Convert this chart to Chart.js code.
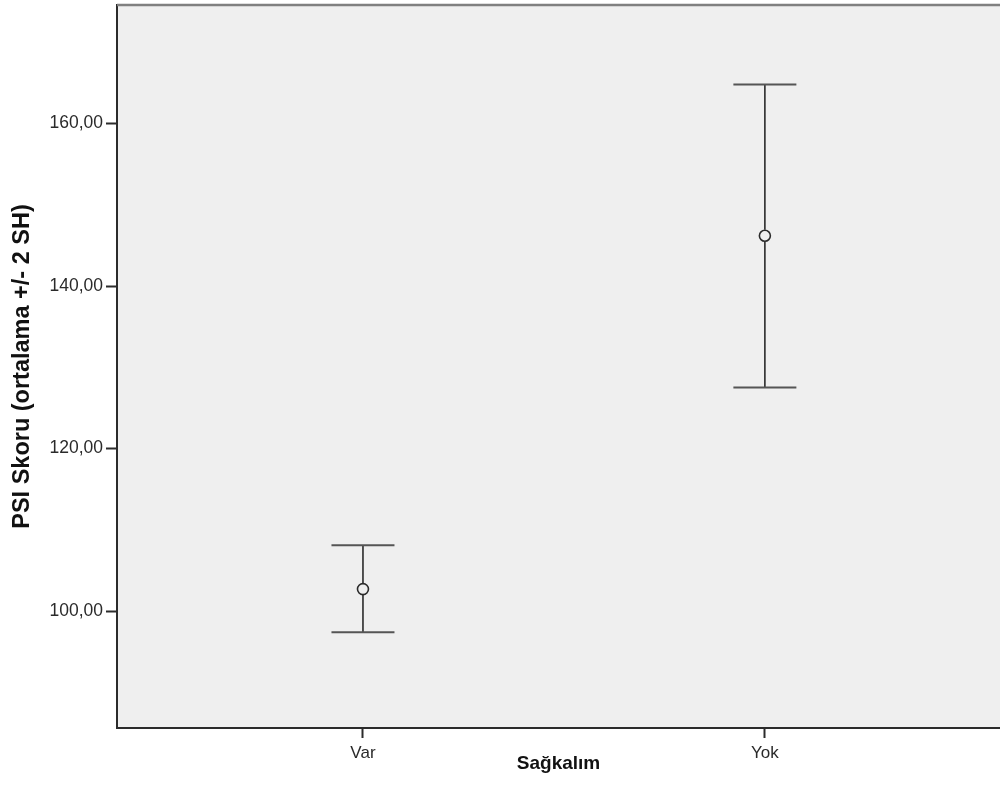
<!DOCTYPE html>
<html>
<head>
<meta charset="utf-8">
<script src="https://cdn.jsdelivr.net/npm/chart.js@4/dist/chart.umd.min.js"></script>
<style>
  html, body { margin: 0; padding: 0; background: #fff; overflow: hidden; }
  #wrap { width: 1000px; height: 807px; }
</style>
</head>
<body>
<div id="wrap"><canvas id="errChart"></canvas></div>
<script>
// PSI score by survival group: mean with +/- 2 SD bars
const groups = ['Var', 'Yok'];
const means = [102.7, 146.2];
const lower = [97.4, 127.5];
const upper = [108.1, 164.8];
const yTicks = [100, 120, 140, 160];

const FONT = '"Liberation Sans", Arial, sans-serif';
const INK = '#2b2b2b';

// draws the whisker + caps for each group using the chart scales
const errorBars = {
  id: 'errorBars',
  beforeDraw(chart) {
    const { ctx, chartArea: a } = chart;
    ctx.save();
    ctx.fillStyle = '#efefef';
    ctx.fillRect(a.left, a.top, a.right - a.left, a.bottom - a.top);
    ctx.restore();
  },
  afterDatasetsDraw(chart) {
    const { ctx, scales: { x, y } } = chart;
    ctx.save();
    groups.forEach((g, i) => {
      const px = x.getPixelForValue(i);
      const lo = y.getPixelForValue(lower[i]);
      const hi = y.getPixelForValue(upper[i]);
      const mid = y.getPixelForValue(means[i]);
      const r = 6;
      ctx.strokeStyle = INK;
      ctx.lineWidth = 1.6;
      ctx.beginPath();
      ctx.moveTo(px, hi); ctx.lineTo(px, mid - r);
      ctx.moveTo(px, mid + r); ctx.lineTo(px, lo);
      ctx.stroke();
      ctx.strokeStyle = '#555';
      ctx.lineWidth = 2;
      ctx.beginPath();
      ctx.moveTo(px - 31.5, hi); ctx.lineTo(px + 31.5, hi);
      ctx.moveTo(px - 31.5, lo); ctx.lineTo(px + 31.5, lo);
      ctx.stroke();
    });
    ctx.restore();
  },
  afterDraw(chart) {
    const { ctx, chartArea: a } = chart;
    ctx.save();
    ctx.strokeStyle = '#808080';
    ctx.lineWidth = 2.5;
    ctx.beginPath();
    ctx.moveTo(a.left, a.top);
    ctx.lineTo(a.right, a.top);
    ctx.stroke();
    ctx.restore();
  }
};

new Chart(document.getElementById('errChart'), {
  type: 'scatter',
  data: {
    datasets: [{
      label: 'Ortalama',
      data: means.map((m, i) => ({ x: i, y: m })),
      pointStyle: 'circle',
      pointRadius: 5.5,
      pointHoverRadius: 5.5,
      pointBorderWidth: 1.6,
      pointBorderColor: INK,
      pointBackgroundColor: 'rgba(0,0,0,0)'
    }]
  },
  options: {
    responsive: true,
    maintainAspectRatio: false,
    animation: false,
    layout: { autoPadding: false, padding: { top: 5, right: 0, bottom: 0, left: 0 } },
    plugins: {
      legend: { display: false },
      tooltip: { enabled: false }
    },
    scales: {
      x: {
        type: 'linear',
        min: -0.612,
        max: 1.585,
        afterBuildTicks: s => { s.ticks = groups.map((g, i) => ({ value: i })); },
        afterFit: s => { s.height = 79; s.paddingLeft = 0; s.paddingRight = 0; },
        grid: { drawOnChartArea: false, tickLength: 10, color: INK, tickWidth: 2 },
        border: { color: INK, width: 2 },
        ticks: {
          padding: 5,
          color: '#2a2a2a',
          font: { family: FONT, size: 17 },
          callback: v => groups[v]
        },
        title: {
          display: true,
          text: 'Sağkalım',
          color: '#111',
          font: { family: FONT, size: 19, weight: 'bold' },
          padding: { top: 0, bottom: 32 }
        }
      },
      y: {
        min: 85.6,
        max: 174.6,
        afterBuildTicks: s => { s.ticks = yTicks.map(v => ({ value: v })); },
        afterFit: s => { s.width = 117; s.paddingTop = 0; s.paddingBottom = 0; },
        grid: { drawOnChartArea: false, tickLength: 11, color: INK, tickWidth: 2 },
        border: { color: INK, width: 2 },
        ticks: {
          padding: 3,
          color: '#2a2a2a',
          font: { family: FONT, size: 17.5 },
          callback: v => v.toFixed(2).replace('.', ',')
        },
        title: {
          display: true,
          text: 'PSI Skoru (ortalama +/- 2 SH)',
          color: '#111',
          font: { family: FONT, size: 23.5, weight: 'bold' },
          padding: { top: 8, bottom: 0 }
        }
      }
    }
  },
  plugins: [errorBars]
});
</script>
</body>
</html>
